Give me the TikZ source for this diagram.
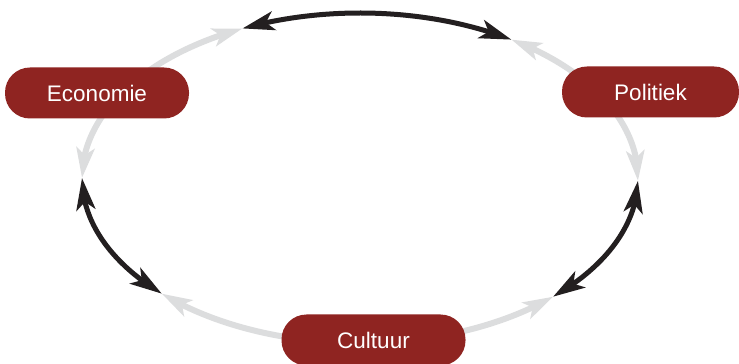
\documentclass[tikz,border=0pt]{standalone}
\usepackage{fontspec}
\setmainfont{Liberation Sans}
\usetikzlibrary{arrows.meta,bending,calc}
\definecolor{nodered}{HTML}{8F2421}
\definecolor{arrowgrey}{HTML}{DCDDDE}
\definecolor{arrowblack}{HTML}{231F20}
\tikzset{
  topic/.style={rectangle, rounded corners=25pt, fill=nodered, text=white,
    minimum width=184pt, minimum height=51pt, inner sep=0pt,
    font=\fontsize{22.5}{27}\selectfont},
  greyarrow/.style={draw=arrowgrey, line width=6pt,
    -{Stealth[length=30pt, width=18pt, inset=7pt]}},
  blackarrow/.style={draw=arrowblack, line width=5pt,
    {Stealth[length=32pt, width=19pt, inset=8pt]}-{Stealth[length=32pt, width=19pt, inset=8pt]}},
}
\begin{document}
\begin{tikzpicture}[x=1pt,y=1pt]
\useasboundingbox (0,0) rectangle (739,364);
\coordinate (C) at (360,186);
% junction points on the ellipse
\coordinate (tl) at ($(C)+(115:278 and 165)$);
\coordinate (tr) at ($(C)+(57:278 and 165)$);
\coordinate (r)  at ($(C)+(-1:278 and 165)$);
\coordinate (br) at ($(C)+(-46:278 and 165)$);
\coordinate (bl) at ($(C)+(-135.5:278 and 165)$);
\coordinate (l)  at ($(C)+(180:278 and 165)$);
% anchors of the grey arcs (hidden under the nodes)
\coordinate (es) at ($(C)+(148:278 and 165)$);
\coordinate (ps) at ($(C)+(25:278 and 165)$);
\coordinate (cs) at ($(C)+(-90:278 and 165)$);
% grey arcs
\draw[greyarrow] (es) arc[start angle=148, end angle=115, x radius=278, y radius=165];
\draw[greyarrow] (es) arc[start angle=148, end angle=180, x radius=278, y radius=165];
\draw[greyarrow] (ps) arc[start angle=25, end angle=57, x radius=278, y radius=165];
\draw[greyarrow] (ps) arc[start angle=25, end angle=-1, x radius=278, y radius=165];
\draw[greyarrow] (cs) arc[start angle=-90, end angle=-135.5, x radius=278, y radius=165];
\draw[greyarrow] (cs) arc[start angle=-90, end angle=-46, x radius=278, y radius=165];
% black double arrows
\draw[blackarrow] (tl) arc[start angle=115, end angle=57, x radius=278, y radius=165];
\draw[blackarrow] (l) arc[start angle=180, end angle=224.5, x radius=278, y radius=165];
\draw[blackarrow] (r) arc[start angle=-1, end angle=-46, x radius=278, y radius=165];
% nodes
\node[topic] (eco) at (97,271) {Economie};
\node[topic, minimum width=177pt] (pol) at (650.5,272) {Politiek};
\node[topic] (cul) at (373.5,24) {Cultuur};
\end{tikzpicture}
\end{document}
